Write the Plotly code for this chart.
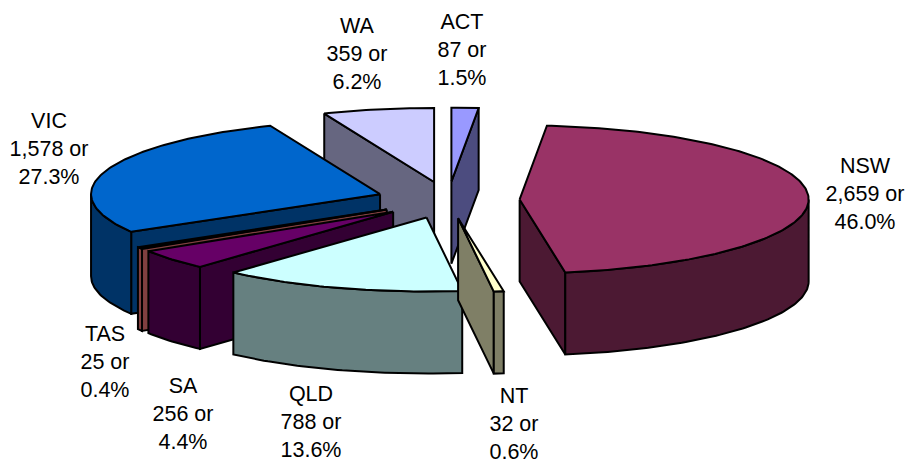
import math
import plotly.graph_objects as go

# Members by jurisdiction, in clockwise order from twelve o'clock
categories = ["ACT", "NSW", "NT", "QLD", "SA", "TAS", "VIC", "WA"]
values = [87, 2659, 32, 788, 256, 25, 1578, 359]
top_colors = ["#9999FF", "#993366", "#FFFFCC", "#CCFFFF", "#660066", "#FF8080", "#0066CC", "#CCCCFF"]
side_colors = ["#4C4C7F", "#4C1933", "#7F7F66", "#668080", "#330033", "#804040", "#003366", "#666680"]

# Pixel centres of the three-line labels
label_x = [462, 865, 514, 311, 183, 105, 49, 357]
label_y = [52, 196, 426, 424, 416, 364, 151, 56]

# Projection of the tilted pie onto the page
CX, CY = 448, 200
RX, RY = 289, 74
EXPLODE = 0.248
DEPTH = 82
# Back-to-front painting order
PAINT_ORDER = ["WA", "ACT", "VIC", "TAS", "SA", "NSW", "QLD", "NT"]

total = sum(values)
spans = {}
running = 0.0
for name, v in zip(categories, values):
    start = running / total * 2 * math.pi
    running += v
    spans[name] = (start, running / total * 2 * math.pi)


def rim(cx, cy, phi):
    return cx + RX * math.sin(phi), cy - RY * math.cos(phi)


def add_face(fig, pts, color):
    xs = [p[0] for p in pts] + [pts[0][0]]
    ys = [p[1] for p in pts] + [pts[0][1]]
    fig.add_trace(go.Scatter(
        x=xs, y=ys, mode="lines", fill="toself", fillcolor=color,
        line=dict(color="#000000", width=2), hoverinfo="skip", showlegend=False,
    ))


def drop(p):
    return p[0], p[1] + DEPTH


fig = go.Figure()
for name in PAINT_ORDER:
    i = categories.index(name)
    a, b = spans[name]
    mid = (a + b) / 2
    ax = CX + EXPLODE * RX * math.sin(mid)
    ay = CY - EXPLODE * RY * math.cos(mid)
    apex = (ax, ay)
    pa, pb = rim(ax, ay, a), rim(ax, ay, b)

    # Cut faces that turn towards the viewer
    if math.sin(a) < -1e-6:
        add_face(fig, [apex, pa, drop(pa), drop(apex)], side_colors[i])
    if math.sin(b) > 1e-6:
        add_face(fig, [apex, pb, drop(pb), drop(apex)], side_colors[i])

    # Outer wall, only along the front half of the rim
    lo, hi = max(a, math.pi / 2), min(b, 3 * math.pi / 2)
    if hi > lo:
        n = max(4, int((hi - lo) * 60))
        arc = [rim(ax, ay, lo + (hi - lo) * k / n) for k in range(n + 1)]
        add_face(fig, arc + [drop(p) for p in reversed(arc)], side_colors[i])

    # Top face
    n = max(4, int((b - a) * 60))
    arc = [rim(ax, ay, a + (b - a) * k / n) for k in range(n + 1)]
    add_face(fig, [apex] + arc, top_colors[i])

labels = [f"{c}<br>{v:,} or<br>{v / total * 100:.1f}%" for c, v in zip(categories, values)]
fig.add_trace(go.Scatter(
    x=label_x, y=label_y, mode="text", text=labels, textposition="middle center",
    textfont=dict(family="Liberation Sans, Arial, sans-serif", size=21.5, color="#000000"),
    hoverinfo="skip", showlegend=False, cliponaxis=False,
))

fig.update_layout(
    width=911, height=463, margin=dict(l=0, r=0, t=0, b=0),
    paper_bgcolor="#FFFFFF", plot_bgcolor="#FFFFFF", showlegend=False,
    xaxis=dict(range=[0, 911], visible=False, fixedrange=True),
    yaxis=dict(range=[463, 0], visible=False, fixedrange=True),
)
fig.write_html("out.html", config=dict(displayModeBar=False))
